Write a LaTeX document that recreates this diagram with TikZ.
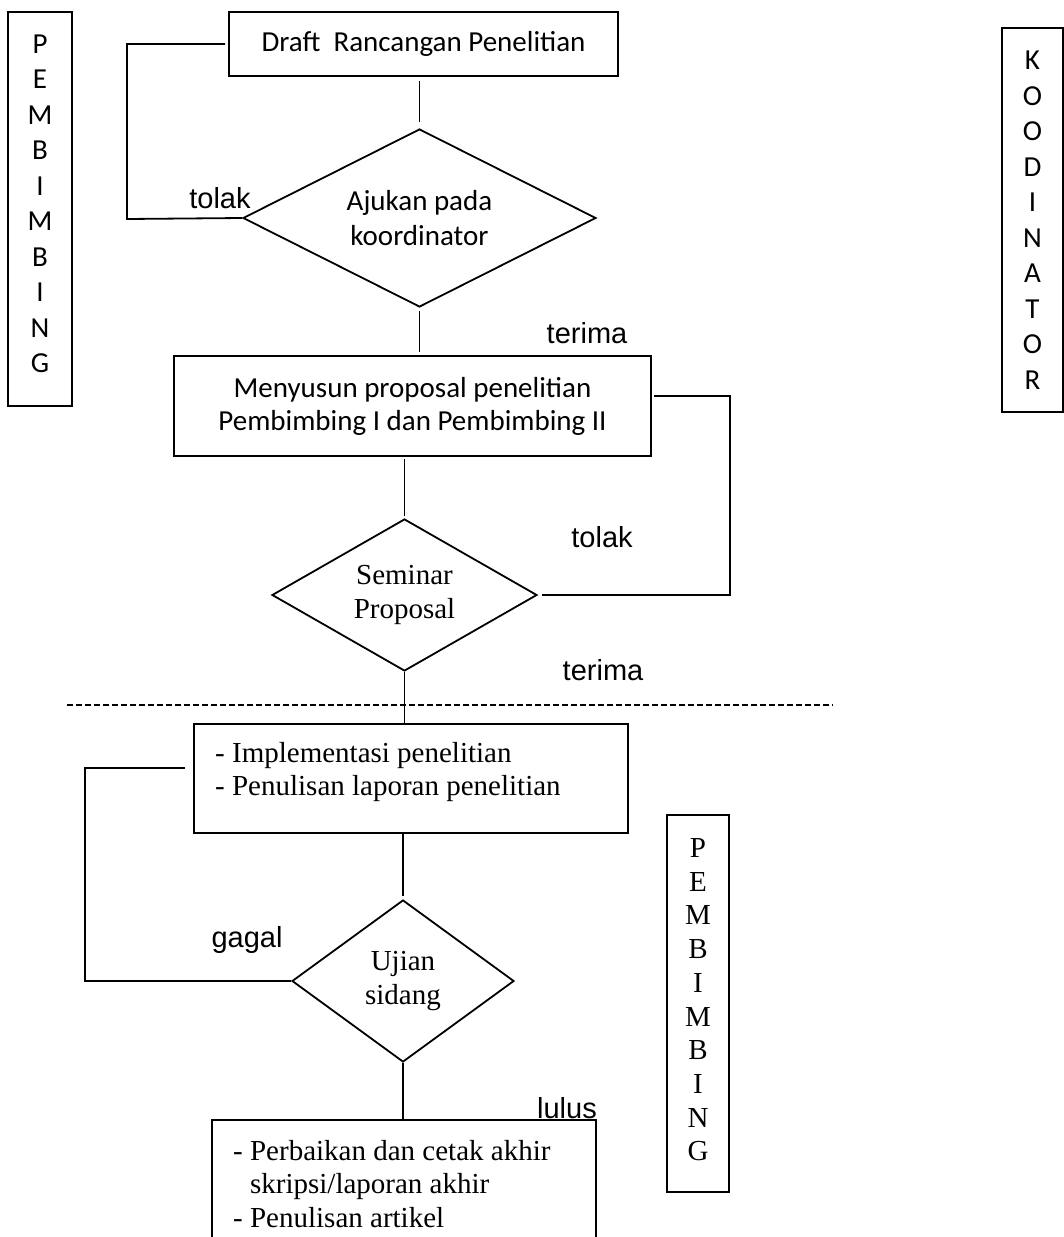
\documentclass[tikz,border=0pt]{standalone}
\usepackage{fontspec}
\setmainfont{Liberation Serif}
\newfontfamily\calfont{Carlito}
\newfontfamily\arfont{Liberation Sans}
\usetikzlibrary{shapes.geometric}
\tikzset{
  ln/.style={line width=1.8pt},
  boxc/.style={draw, line width=1.8pt, inner sep=0pt, align=center},
  dia/.style={draw, diamond, aspect=2, inner sep=0pt, line width=1.8pt, align=center},
  lbl/.style={font=\arfont\fontsize{29}{35}\selectfont, inner sep=0pt},
  calt/.style={font=\calfont\fontsize{29}{35.5}\selectfont},
  calb/.style={font=\calfont\fontsize{29}{33}\selectfont},
  timt/.style={font=\fontsize{29}{33.5}\selectfont},
  timv/.style={font=\fontsize{29}{33.7}\selectfont},
  dashln/.style={line width=2.6pt, dash pattern=on 6pt off 3pt},
}
\begin{document}
\begin{tikzpicture}[x=1pt,y=-1pt]
\useasboundingbox (0,0) rectangle (1064,1237);

% side labels
\node[boxc, calt, minimum width=64pt, minimum height=394pt] (pb1) at (40,209)
  {P\\E\\M\\B\\I\\M\\B\\I\\N\\G\\[-25pt]};
\node[boxc, calt, minimum width=61pt, minimum height=384pt] (kd) at (1032.5,220)
  {K\\O\\O\\D\\I\\N\\A\\T\\O\\R};
\node[boxc, timv, minimum width=62pt, minimum height=377pt] (pb2) at (698,1003.5)
  {P\\E\\M\\B\\I\\M\\B\\I\\N\\G\\[-26pt]};

% main flow
\node[boxc, calt, minimum width=389pt, minimum height=64pt] (draft) at (423.5,44)
  {Draft\ \ Rancangan Penelitian};
\node[dia, calt, minimum width=353pt, minimum height=178pt] (d1) at (419.5,218)
  {Ajukan pada\\koordinator};
\node[boxc, calb, minimum width=477pt, minimum height=100pt] (mny) at (412.5,406)
  {Menyusun proposal penelitian\\Pembimbing I dan Pembimbing II};
\node[dia, timt, minimum width=265pt, minimum height=152pt] (sem) at (404.5,595)
  {Seminar\\Proposal};
\node[boxc, minimum width=434pt, minimum height=109pt] (impl) at (411,778.5) {};
\node[timt, anchor=north west, align=left, inner sep=0pt] (implt) at (215,742)
  {- Implementasi penelitian\\- Penulisan laporan penelitian};
\node[dia, timt, minimum width=222pt, minimum height=162pt] (uji) at (403,981)
  {Ujian\\sidang};

% final box (cut off at bottom)
\coordinate (f1) at (212,1240);
\coordinate (f2) at (212,1120);
\coordinate (f3) at (596,1120);
\coordinate (f4) at (596,1240);
\draw[ln] (f1) -- (f2) -- (f3) -- (f4);
\node[timt, anchor=north west, align=left, inner sep=0pt] (fint) at (233,1140)
  {- Perbaikan dan cetak akhir\\\phantom{- }skripsi/laporan akhir\\- Penulisan artikel};

% dashed separator
\coordinate (dl) at (67,705);
\coordinate (dr) at (833,705);
\draw[dashln] (dl) -- (dr);

% connectors
\draw[ln, shorten <=4pt, shorten >=6pt] (draft.south -| d1.north) -- (d1.north);
\draw[ln, shorten <=3pt, shorten >=3pt] (d1.south) -- (d1.south |- mny.north);
\coordinate (c1) at (127,219);
\draw[ln, shorten >=3pt] (d1.west) -- (c1) |- (draft.west);
\coordinate (c2) at (730,396);
\draw[ln, shorten <=2pt, shorten >=4pt] (mny.east |- c2) -- (c2) |- (sem.east);
\draw[ln, shorten <=2pt, shorten >=2pt] (mny.south -| sem.north) -- (sem.north);
\draw[ln] (sem.south) -- (sem.south |- impl.north);
\draw[ln, shorten >=3pt] (impl.south -| uji.north) -- (uji.north);
\coordinate (c3) at (85,768);
\draw[ln, shorten <=8pt] (impl.west |- c3) -- (c3) |- (uji.west);
\draw[ln] (uji.south) -- (uji.south |- f2);

% labels
\node[lbl] (t1) at (220,198) {tolak};
\node[lbl] (tr1) at (587,333) {terima};
\node[lbl] (t2) at (602,537) {tolak};
\node[lbl] (tr2) at (603,670) {terima};
\node[lbl] (gg) at (247,940) {gagal};
\node[lbl, anchor=base east] (ll) at (597,1118) {lulus};
\end{tikzpicture}
\end{document}
